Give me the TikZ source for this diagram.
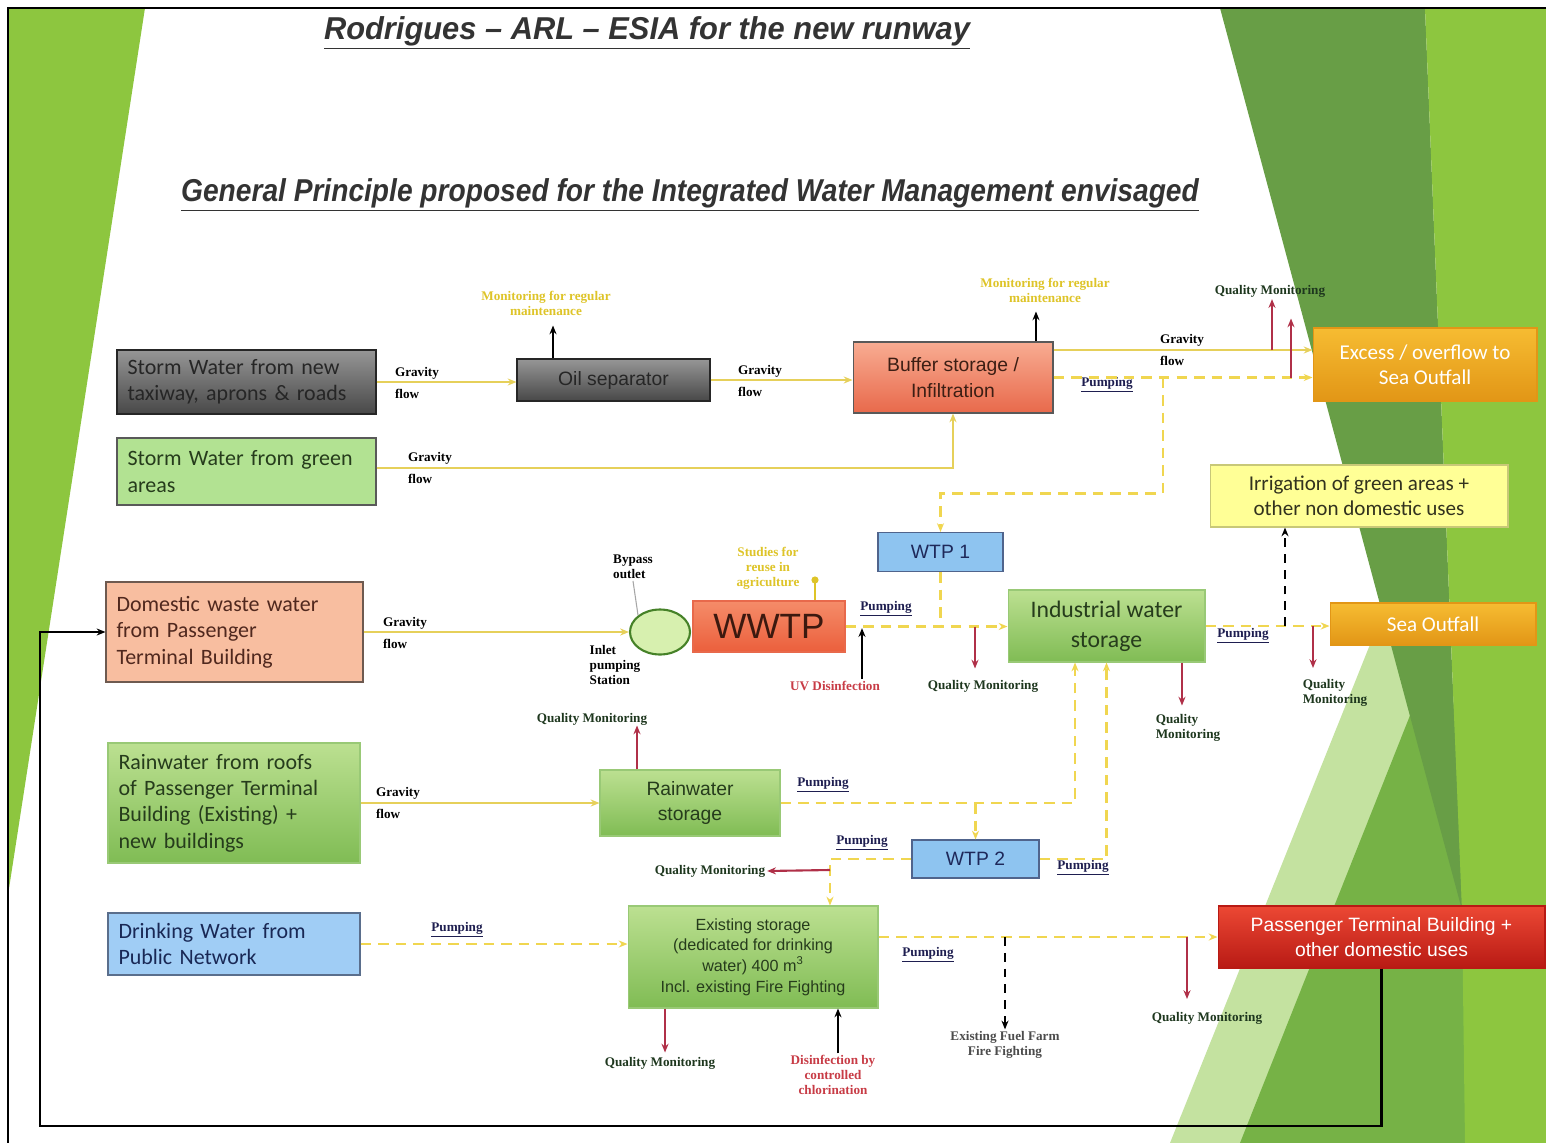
\documentclass[tikz,border=0pt]{standalone}
\usepackage{fontspec}
\usepackage{graphicx}
\usetikzlibrary{positioning, arrows.meta, calc, shapes.geometric}

\newfontfamily\carl{Carlito}
\newfontfamily\arialf{Liberation Sans}
\newfontfamily\seriff{Liberation Serif}

\definecolor{lime}{RGB}{141,198,63}
\definecolor{darkleaf}{RGB}{104,158,70}
\definecolor{midleaf}{RGB}{118,178,70}
\definecolor{paleleaf}{RGB}{196,226,160}
\definecolor{flowyellow}{RGB}{230,208,90}
\definecolor{pumpyellow}{RGB}{240,214,80}
\definecolor{qmred}{RGB}{176,48,72}
\definecolor{noteyellow}{RGB}{222,196,40}
\definecolor{navy}{RGB}{30,30,80}
\definecolor{redtext}{RGB}{200,60,70}
\definecolor{greytop}{RGB}{150,150,150}
\definecolor{greybot}{RGB}{72,72,72}
\definecolor{salmontop}{RGB}{248,172,146}
\definecolor{salmonbot}{RGB}{232,105,75}
\definecolor{goldtop}{RGB}{246,188,50}
\definecolor{goldbot}{RGB}{226,150,22}
\definecolor{leaftop}{RGB}{188,224,145}
\definecolor{leafbot}{RGB}{128,188,84}
\definecolor{redtop}{RGB}{236,72,52}
\definecolor{redbot}{RGB}{184,26,20}
\definecolor{skyblue}{RGB}{142,196,240}
\definecolor{darktxt}{RGB}{38,60,28}

\begin{document}
\begin{tikzpicture}[x=0.02cm, y=-0.02cm, >={Stealth[length=5pt, width=4pt]}]
    \tikzstyle{box} = [draw=black!65, line width=0.6pt, inner sep=3pt]
    \tikzstyle{srcbox} = [box, inner xsep=6pt, align=left, font=\carl\fontsize{12.5}{15}\selectfont]
    \tikzstyle{greybox} = [box, draw=black!85, top color=greytop, bottom color=greybot, text=black!85]
    \tikzstyle{leafbox} = [box, draw=leafbot!80, top color=leaftop, bottom color=leafbot, text=darktxt, align=center]
    \tikzstyle{goldbox} = [box, draw=goldbot, top color=goldtop, bottom color=goldbot, text=white, align=center, font=\carl\fontsize{12}{14.5}\selectfont]
    \tikzstyle{wtpbox} = [box, draw={rgb,255:red,80;green,100;blue,140}, fill=skyblue, text={rgb,255:red,30;green,40;blue,90}, font=\arialf\fontsize{11}{13}\selectfont, minimum width=2.5cm, minimum height=0.78cm]
    \tikzstyle{lbl} = [font=\seriff\bfseries\fontsize{7.5}{8.5}\selectfont, align=left, inner sep=1pt]
    \tikzstyle{gravlbl} = [lbl, font=\seriff\bfseries\fontsize{7.5}{12.5}\selectfont]
    \tikzstyle{pumplbl} = [lbl, text=navy]
    \tikzstyle{qmlbl} = [lbl, text={rgb,255:red,30;green,55;blue,30}]
    \tikzstyle{notelbl} = [lbl, text=noteyellow, align=center]
    \tikzstyle{gravity} = [draw=flowyellow, line width=0.9pt]
    \tikzstyle{pump} = [draw=pumpyellow, line width=1.6pt, dash pattern=on 6pt off 4pt]
    \tikzstyle{qm} = [draw=qmred, line width=1.2pt, ->]
    \tikzstyle{dosing} = [draw=black, line width=0.9pt, ->]
    \tikzstyle{blackdash} = [draw=black, line width=1.4pt, dash pattern=on 5pt off 4pt, ->]

    % slide background
    \useasboundingbox (0,0) rectangle (1546,1143);
    \fill[white] (0,0) rectangle (1546,1143);
    \fill[lime] (8,8) -- (145,8) -- (8,895) -- cycle;
    \fill[paleleaf] (1420,520) -- (1170,1143) -- (1546,1143) -- cycle;
    \fill[midleaf] (1440,640) -- (1240,1143) -- (1546,1143) -- cycle;
    \fill[darkleaf] (1220,8) -- (1425,8) -- (1462,910) -- cycle;
    \fill[lime] (1425,8) -- (1546,8) -- (1546,1143) -- (1465,1143) -- (1462,910) -- cycle;
    \draw[line width=1.2pt] (8,1143) -- (8,8) -- (1546,8);

    % titles
    \node[text=black!80, font=\arialf\bfseries\itshape\fontsize{18}{20}\selectfont] (title) at (647,33)
        {\scalebox{0.975}[1]{\underline{Rodrigues – ARL – ESIA for the new runway}}};
    \node[text=black!80, font=\arialf\bfseries\itshape\fontsize{18}{20}\selectfont] (subtitle) at (690,195)
        {\scalebox{0.89}[1]{\underline{General Principle proposed for the Integrated Water Management envisaged}}};

    % Left column (sources)
    \node[srcbox, greybox, minimum width=5.18cm, minimum height=1.28cm, text width=4.76cm] (swnew) at (246.5,382) {Storm Water from new\\taxiway, aprons \& roads};
    \node[srcbox, fill={rgb,255:red,178;green,226;blue,146}, text=darktxt, minimum width=5.18cm, minimum height=1.34cm, text width=4.76cm] (swgreen) at (246.5,471.5) {Storm Water from green\\areas};
    \node[srcbox, fill={rgb,255:red,248;green,190;blue,160}, draw={rgb,255:red,110;green,90;blue,80}, text={rgb,255:red,80;green,40;blue,30}, minimum width=5.14cm, minimum height=2.0cm, text width=4.72cm] (domestic) at (234.5,632) {Domestic waste water\\from Passenger\\Terminal Building};
    \node[srcbox, leafbox, align=left, minimum width=5.04cm, minimum height=2.4cm, text width=4.62cm] (rainroof) at (234,803) {Rainwater from roofs\\of Passenger Terminal\\Building (Existing) +\\new buildings};
    \node[srcbox, fill={rgb,255:red,160;green,205;blue,245}, draw={rgb,255:red,90;green,110;blue,140}, text={rgb,255:red,25;green,40;blue,85}, minimum width=5.04cm, minimum height=1.24cm, text width=4.62cm] (drink) at (234,944) {Drinking Water from\\Public Network};

    % Treatment and storage
    \node[greybox, font=\arialf\fontsize{11}{13}\selectfont, minimum width=3.86cm, minimum height=0.84cm] (oilsep) at (613.5,380) {Oil separator};
    \node[box, top color=salmontop, bottom color=salmonbot, text={rgb,255:red,60;green,30;blue,20}, align=center, font=\arialf\fontsize{11}{14.5}\selectfont, minimum width=4.0cm, minimum height=1.42cm] (buffer) at (953,377.5) {Buffer storage /\\Infiltration};
    \node[wtpbox] (wtp1) at (940.5,552) {WTP 1};
    \node[ellipse, draw={rgb,255:red,70;green,130;blue,40}, line width=1.2pt, fill={rgb,255:red,215;green,240;blue,175}, minimum width=1.2cm, minimum height=0.9cm] (inlet) at (660,632) {};
    \node[box, draw=salmonbot, top color={rgb,255:red,245;green,140;blue,105}, bottom color={rgb,255:red,235;green,95;blue,60}, text={rgb,255:red,60;green,25;blue,15}, font=\arialf\fontsize{20}{22}\selectfont, minimum width=3.04cm, minimum height=1.02cm] (wwtp) at (769,626.5) {WWTP};
    \node[leafbox, font=\carl\fontsize{13.5}{17}\selectfont, minimum width=3.94cm, minimum height=1.44cm] (indstor) at (1106.5,626) {Industrial water\\storage};
    \node[leafbox, font=\arialf\fontsize{11}{14.5}\selectfont, minimum width=3.6cm, minimum height=1.32cm] (rainstor) at (690,803) {Rainwater\\storage};
    \node[wtpbox, minimum width=2.54cm, minimum height=0.76cm] (wtp2) at (975.5,859) {WTP 2};
    \node[leafbox, font=\arialf\fontsize{9.2}{11.8}\selectfont, minimum width=5.0cm, minimum height=2.04cm] (exist) at (753,957) {Existing storage\\(dedicated for drinking\\water) 400 m\textsuperscript{3}\\Incl. existing Fire Fighting};

    % Destinations
    \node[goldbox, minimum width=4.48cm, minimum height=1.46cm] (excess) at (1425,364.5) {Excess / overflow to\\Sea Outfall};
    \node[box, draw={rgb,255:red,200;green,200;blue,120}, fill={rgb,255:red,255;green,255;blue,150}, text={rgb,255:red,50;green,50;blue,30}, align=center, font=\carl\fontsize{12}{14.5}\selectfont, minimum width=5.96cm, minimum height=1.24cm] (irrig) at (1359,496) {Irrigation of green areas +\\other non domestic uses};
    \node[goldbox, minimum width=4.12cm, minimum height=0.84cm] (seaout) at (1433,624) {Sea Outfall};
    \node[box, draw=redbot, top color=redtop, bottom color=redbot, text=white, align=center, font=\arialf\fontsize{11}{14}\selectfont, minimum width=6.54cm, minimum height=1.24cm] (ptb) at (1381.5,937) {Passenger Terminal Building +\\other domestic uses};

    % Small labels
    \node[gravlbl] (g1) at (417,383) {Gravity\\flow};
    \node[gravlbl] (g2) at (760,381) {Gravity\\flow};
    \node[gravlbl] (g3) at (430,468) {Gravity\\flow};
    \node[gravlbl] (g4) at (1182,350) {Gravity\\flow};
    \node[gravlbl] (g5) at (405,633) {Gravity\\flow};
    \node[gravlbl] (g6) at (398,803) {Gravity\\flow};
    \node[pumplbl] (p1) at (1107,385) {\underline{Pumping}};
    \node[pumplbl] (p2) at (886,609) {\underline{Pumping}};
    \node[pumplbl] (p3) at (1243,636) {\underline{Pumping}};
    \node[pumplbl] (p4) at (823,785) {\underline{Pumping}};
    \node[pumplbl] (p5) at (862,843) {\underline{Pumping}};
    \node[pumplbl] (p6) at (1083,868) {\underline{Pumping}};
    \node[pumplbl] (p7) at (457,930) {\underline{Pumping}};
    \node[pumplbl] (p8) at (928,955) {\underline{Pumping}};
    \node[qmlbl] (qmtop) at (1270,291) {Quality Monitoring};
    \node[qmlbl] (qm2) at (983,686) {Quality Monitoring};
    \node[qmlbl] (qm3) at (1335,693) {Quality\\Monitoring};
    \node[qmlbl] (qm4) at (1188,728) {Quality\\Monitoring};
    \node[qmlbl] (qm5) at (710,871) {Quality Monitoring};
    \node[qmlbl] (qm6) at (592,719) {Quality Monitoring};
    \node[qmlbl] (qm7) at (1207,1018) {Quality Monitoring};
    \node[qmlbl] (qm8) at (660,1063) {Quality Monitoring};
    \node[notelbl] (note1) at (546,303) {Monitoring for regular\\maintenance};
    \node[notelbl] (note2) at (1045,290) {Monitoring for regular\\maintenance};
    \node[notelbl] (studies) at (768,568) {Studies for\\reuse in\\agriculture};
    \node[lbl] (bypass) at (633,567) {Bypass\\outlet};
    \node[lbl] (inletlbl) at (615,665) {Inlet\\pumping\\Station};
    \node[lbl, text=redtext] (uv) at (835,686) {UV Disinfection};
    \node[lbl, text=redtext, align=center] (chlor) at (833,1075) {Disinfection by\\controlled\\chlorination};
    \node[lbl, text=black!70, align=center] (fuel) at (1005,1045) {Existing Fuel Farm\\Fire Fighting};

    % Storm water
    \draw[gravity, ->] (swnew.east) -- (swnew.east -| oilsep.west);
    \draw[gravity, ->] (oilsep.east) -- (oilsep.east -| buffer.west);
    \draw[gravity, ->] ([yshift=0.07cm]swgreen.east) -| (buffer.south);
    \draw[dosing] ([xshift=-1.21cm]oilsep.north) -- ++(0,-33);
    \draw[dosing] ([xshift=1.66cm]buffer.north) -- ++(0,-30);
    \draw[gravity, ->] ([yshift=0.55cm]buffer.east) -- ([yshift=0.55cm]buffer.east -| excess.west);
    \draw[pump, ->] (buffer.east) -- (buffer.east -| excess.west);
    \coordinate (qa) at (1272,350);
    \coordinate (qb) at (1291,377.5);
    \draw[qm] (qa) -- (qa |- qmtop.south);
    \draw[qm] (qb) -- ++(0,-59);
    \coordinate (pb) at (1163,377.5);
    \draw[pump, ->] (pb) -- ++(0,116) -| (wtp1.north);

    % Waste water
    \draw[gravity, ->] (domestic.east) -- (inlet.west);
    \draw[draw=gray!70, line width=0.6pt] (inlet.north west) -- (bypass.south);
    \draw[draw=noteyellow, line width=0.9pt, -{Circle[length=4pt]}] ([xshift=0.92cm]wwtp.north) -- ++(0,-24);
    \draw[pump] (wtp1.south) -- (wtp1.south |- wwtp.east);
    \draw[pump, ->] (wwtp.east) -- (wwtp.east -| indstor.west);
    \draw[dosing] ([xshift=0.54cm]uv.north) -- ++(0,-51);
    \coordinate (qj1) at (975,626.5);
    \draw[qm] (qj1) -- ++(0,42);
    \draw[pump, ->] (indstor.east) -- (indstor.east -| seaout.west);
    \coordinate (ij) at (1285,626);
    \draw[blackdash] (ij) -- (ij |- irrig.south);
    \coordinate (qj2) at (1313,626);
    \draw[qm] (qj2) -- ++(0,42);
    \draw[qm] ([xshift=1.51cm]indstor.south) -- ++(0,43);

    % Rainwater
    \draw[gravity, ->] (rainroof.east) -- (rainstor.west);
    \draw[qm] ([xshift=-1.06cm]rainstor.north) -- ++(0,-44);
    \draw[pump, ->] (rainstor.east) -| ([xshift=-0.63cm]indstor.south);
    \draw[pump, ->] (wtp2.north |- rainstor.east) -- (wtp2.north);
    \draw[pump, ->] (wtp2.east) -| (indstor.south);
    \draw[pump, ->] (wtp2.west) -| ([xshift=1.54cm]exist.north);
    \coordinate (qj3) at (830,870);
    \draw[qm] (qj3) -- (qm5.east);

    % Drinking water
    \draw[pump, ->] (drink.east) -- (drink.east -| exist.west);
    \draw[pump, ->] (exist.east |- ptb.west) -- (ptb.west);
    \coordinate (fj) at (1005,937);
    \draw[blackdash] (fj) -- (fj |- fuel.north);
    \coordinate (qj4) at (1187,937);
    \draw[qm] (qj4) -- ++(0,62);
    \draw[qm] ([xshift=-1.76cm]exist.south) -- ++(0,44);
    \draw[dosing] ([xshift=1.7cm]exist.south |- chlor.north) -- ([xshift=1.7cm]exist.south);
    \draw[dosing, line width=1.3pt] (ptb.south) |- (40,1126) |- (domestic.west);
\end{tikzpicture}
\end{document}
